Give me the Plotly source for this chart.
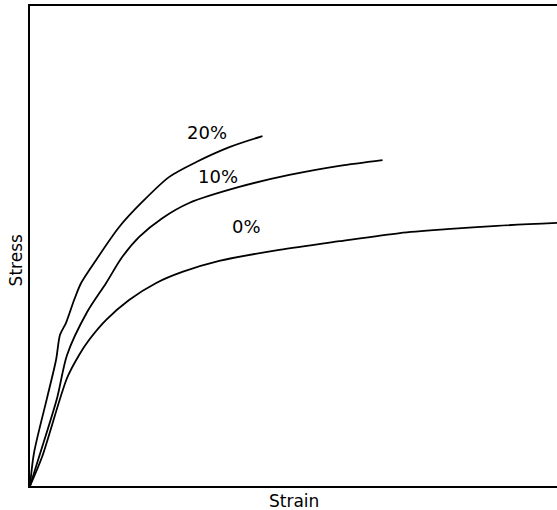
import plotly.graph_objects as go

# Strain / stress curves (arbitrary units, 0-100) for three percentages
strain_20 = [0, 0.76, 3.23, 4.94, 5.70, 6.84, 8.37, 9.70, 12.55, 16.92, 21.29, 26.43, 31.56, 37.83, 44.11]
stress_20 = [0, 6.9, 18.3, 26.25, 31.5, 34.0, 38.75, 42.3, 47.1, 53.96, 59.17, 64.4, 67.5, 70.6, 72.9]

strain_10 = [0, 1.71, 5.13, 7.03, 10.84, 14.45, 17.49, 20.72, 25.1, 30.2, 39.7, 49.2, 58.7, 66.9]
stress_10 = [0, 6.04, 18.3, 27.3, 36.25, 42.3, 47.7, 51.9, 55.8, 58.96, 62.3, 64.8, 66.7, 67.9]

strain_0 = [0, 2.28, 7.03, 9.32, 11.2, 14.45, 18.8, 23.95, 28.9, 35.9, 47.3, 58.7, 70.2, 79.1, 88.6, 100]
stress_0 = [0, 6.04, 22.5, 27.3, 30.4, 34.6, 38.75, 42.3, 44.6, 46.9, 49.2, 51.0, 52.7, 53.5, 54.2, 54.8]

labels = ["20%", "10%", "0%"]
label_x = [33.5, 35.6, 41.1]
label_y = [73.6, 64.4, 54.0]

font_family = "DejaVu Sans"
line_style = dict(color="black", width=1.8)

fig = go.Figure()
for xs, ys, name in [(strain_20, stress_20, labels[0]),
                     (strain_10, stress_10, labels[1]),
                     (strain_0, stress_0, labels[2])]:
    fig.add_trace(go.Scatter(x=xs, y=ys, mode="lines", line=dict(line_style, shape="spline", smoothing=0.8),
                             name=name, showlegend=False, hoverinfo="skip"))

annotations = []
for t, lx, ly in zip(labels, label_x, label_y):
    annotations.append(dict(x=lx, y=ly, xref="x", yref="y", text=t, showarrow=False,
                            font=dict(family=font_family, size=18, color="black"),
                            xanchor="center", yanchor="middle"))
annotations.append(dict(x=0.5, y=0, xref="paper", yref="paper", text="Strain", showarrow=False,
                        font=dict(family=font_family, size=17, color="black"),
                        xanchor="center", yanchor="top", yshift=-3))
annotations.append(dict(x=0, y=47, xref="paper", yref="y", text="Stress", showarrow=False,
                        textangle=-90,
                        font=dict(family=font_family, size=17, color="black"),
                        xanchor="right", yanchor="middle", xshift=-2))

fig.update_layout(
    width=557, height=510,
    margin=dict(l=30, r=0, t=6, b=24),
    paper_bgcolor="white", plot_bgcolor="white",
    annotations=annotations,
    xaxis=dict(range=[0, 100], showgrid=False, zeroline=False, showticklabels=False, ticks="",
               showline=True, linecolor="black", linewidth=2, mirror=True),
    yaxis=dict(range=[0, 100], showgrid=False, zeroline=False, showticklabels=False, ticks="",
               showline=True, linecolor="black", linewidth=2, mirror=False),
)

fig.write_html("out.html", config={"displayModeBar": False},
               post_script="document.body.style.margin='0';document.body.style.overflow='hidden';")
